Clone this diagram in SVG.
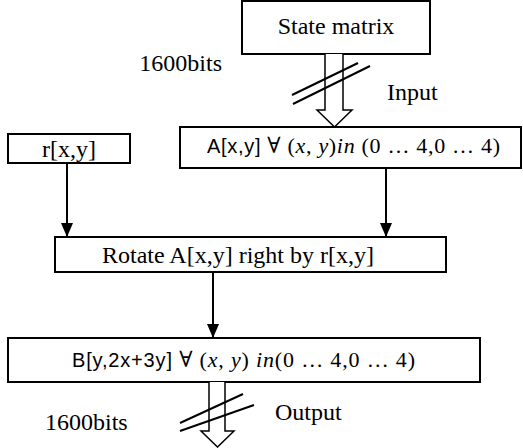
<svg xmlns="http://www.w3.org/2000/svg" width="523" height="448" viewBox="0 0 523 448">
<style>
.box{fill:#fff;stroke:#000;stroke-width:2}
.ln{stroke:#000;stroke-width:2;fill:none}
.hol{fill:#fff;stroke:#000;stroke-width:1.5}
.tm{font-family:"Liberation Serif","Times New Roman",serif;font-size:24px;fill:#000}
.sans{font-family:"Liberation Sans",Arial,sans-serif;font-size:20px}
.it{font-style:italic}
.mx{font-family:"Liberation Serif","DejaVu Serif",serif;font-size:22px;fill:#000}
</style>
<defs>
<marker id="ah" markerWidth="14" markerHeight="12" refX="14" refY="6" orient="auto" markerUnits="userSpaceOnUse" viewBox="0 0 14 12">
<path d="M0,0 L14,6 L0,12 Z" fill="#000"/>
</marker>
</defs>
<g id="state">
<rect class="box" x="242" y="1" width="188" height="53"/>
<text class="tm" x="336" y="34" text-anchor="middle">State matrix</text>
</g>
<g id="input-arrow">
<path class="hol" d="M325,54 L325,110 L317,110 L334.5,127 L352,110 L343,110 L343,54"/>
<line class="ln" x1="292" y1="95" x2="358" y2="63" stroke-width="1.5"/>
<line class="ln" x1="293" y1="104" x2="370" y2="66" stroke-width="1.5"/>
<text class="tm" x="222" y="71" text-anchor="end">1600bits</text>
<text class="tm" x="387" y="100">Input</text>
</g>
<g id="r">
<rect class="box" x="8" y="134" width="122" height="29"/>
<text class="tm" x="69" y="157" text-anchor="middle" font-size="22">r[x,y]</text>
</g>
<g id="A">
<rect class="box" x="180" y="127" width="341" height="41"/>
<text class="mx" x="207" y="153" textLength="293" lengthAdjust="spacing"><tspan class="sans">A[x,y]</tspan> ∀ (<tspan class="it">x</tspan>, <tspan class="it">y</tspan>)<tspan class="it">in</tspan> (0 … 4,0 … 4)</text>
</g>
<g id="rotate">
<rect class="box" x="55" y="237" width="391" height="35"/>
<text class="tm" x="238" y="263" text-anchor="middle">Rotate A[x,y] right by r[x,y]</text>
</g>
<g id="B">
<rect class="box" x="8" y="338" width="472" height="44"/>
<text class="mx" x="72" y="367" textLength="343" lengthAdjust="spacing"><tspan class="sans">B[y,2x+3y]</tspan>  ∀ (<tspan class="it">x</tspan>, <tspan class="it">y</tspan>) <tspan class="it">in</tspan>(0 … 4,0 … 4)</text>
</g>
<g id="output-arrow">
<path class="hol" d="M209,382 L209,431 L201,431 L217.5,447 L234,431 L225,431 L225,382"/>
<line class="ln" x1="180" y1="423" x2="243" y2="394" stroke-width="1.5"/>
<line class="ln" x1="180" y1="431" x2="254" y2="405" stroke-width="1.5"/>
<text class="tm" x="45" y="430">1600bits</text>
<text class="tm" x="275" y="420">Output</text>
</g>
<g id="connectors">
<line class="ln" x1="67" y1="163" x2="67" y2="237" marker-end="url(#ah)"/>
<line class="ln" x1="386" y1="168" x2="386" y2="237" marker-end="url(#ah)"/>
<line class="ln" x1="213" y1="272" x2="213" y2="338" marker-end="url(#ah)"/>
</g>
</svg>
